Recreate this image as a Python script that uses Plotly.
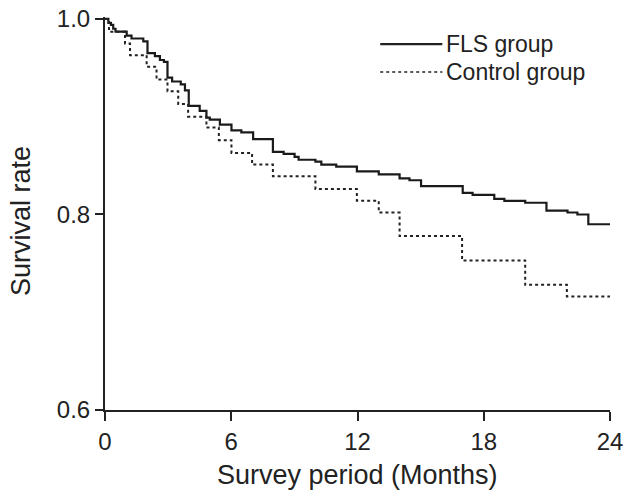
import plotly.graph_objects as go

# Kaplan-Meier step data
fls_months = [0, 0.16, 0.28, 0.39, 0.5, 1.03, 1.26, 1.82, 2.02, 2.37, 2.61, 2.8, 2.97, 3.19, 3.6,
              3.8, 3.98, 4.5, 4.82, 4.98, 5.46, 6.01, 6.48, 7.04, 7.98, 8.49, 9.01, 9.2, 10.0, 10.28,
              10.99, 11.97, 13.01, 14.0, 14.47, 15.02, 17.0, 17.47, 18.5, 18.98, 19.97, 20.98, 21.98,
              22.45, 22.97, 24]
fls_surv = [1.0, 0.996, 0.994, 0.990, 0.987, 0.983, 0.980, 0.977, 0.965, 0.962, 0.958, 0.956, 0.940,
            0.936, 0.933, 0.927, 0.911, 0.906, 0.899, 0.897, 0.892, 0.886, 0.884, 0.877, 0.864, 0.862,
            0.859, 0.856, 0.854, 0.851, 0.849, 0.844, 0.841, 0.837, 0.835, 0.829, 0.822, 0.820, 0.816,
            0.814, 0.812, 0.804, 0.802, 0.800, 0.790, 0.790]

ctl_months = [0, 0.19, 0.95, 1.19, 1.98, 2.45, 2.97, 3.48, 3.95, 4.82, 5.41, 6.01, 6.99, 7.98, 10.0,
              11.97, 13.01, 14.0, 16.97, 19.97, 21.95, 24]
ctl_surv = [1.0, 0.987, 0.975, 0.963, 0.951, 0.938, 0.926, 0.913, 0.900, 0.889, 0.876, 0.863, 0.851,
            0.839, 0.826, 0.814, 0.802, 0.778, 0.753, 0.728, 0.716, 0.716]

x_ticks = [0, 6, 12, 18, 24]
y_ticks = [0.6, 0.8, 1.0]
y_tick_labels = ["0.6", "0.8", "1.0"]

series_names = ["FLS group", "Control group"]
x_title = "Survey period (Months)"
y_title = "Survival rate"

INK = "#222222"
FONT = "Liberation Sans, Arial, Helvetica, sans-serif"

fig = go.Figure()
fig.add_trace(go.Scatter(x=fls_months, y=fls_surv, mode="lines", line_shape="hv",
                         name=series_names[0], line=dict(color="#1a1a1a", width=2.2)))
fig.add_trace(go.Scatter(x=ctl_months, y=ctl_surv, mode="lines", line_shape="hv",
                         name=series_names[1], line=dict(color=INK, width=2, dash="dot")))

tick_font = dict(family=FONT, size=24, color=INK)

fig.update_layout(
    width=626, height=493,
    margin=dict(l=105, r=16, t=17, b=83),
    paper_bgcolor="white", plot_bgcolor="white",
    showlegend=False,
)

# Legend drawn as sample lines + labels (paper coordinates)
leg_rows = [(0.931, "solid", 2.2), (0.860, "dot", 1.6)]
for (yy, dash, w), name in zip(leg_rows, series_names):
    fig.add_shape(type="line", xref="paper", yref="paper", x0=0.545, x1=0.668, y0=yy, y1=yy,
                  line=dict(color=INK, width=w, dash=dash))
    fig.add_annotation(xref="paper", yref="paper", x=0.674, y=yy, text=name, showarrow=False,
                       xanchor="left", yanchor="middle", borderpad=0,
                       font=dict(family=FONT, size=23, color=INK))

# Axis titles
fig.add_annotation(xref="paper", yref="paper", x=0.5, y=-0.165, text=x_title, showarrow=False,
                   xanchor="center", yanchor="middle", font=dict(family=FONT, size=27, color=INK))
fig.add_annotation(xref="paper", yref="paper", x=-0.165, y=0.48, text=y_title, showarrow=False,
                   textangle=-90, xanchor="center", yanchor="middle",
                   font=dict(family=FONT, size=27, color=INK))

fig.update_xaxes(range=[0, 24], tickvals=x_ticks, ticktext=[str(v) for v in x_ticks],
                 showline=True, linecolor=INK, linewidth=2, ticks="outside",
                 ticklen=9, tickwidth=2, tickcolor=INK, showgrid=False, zeroline=False,
                 tickfont=tick_font, automargin=False)
fig.update_yaxes(range=[0.6, 1.002], tickvals=y_ticks, ticktext=y_tick_labels,
                 showline=True, linecolor=INK, linewidth=2, ticks="outside",
                 ticklen=8, tickwidth=2, tickcolor=INK, showgrid=False, zeroline=False,
                 tickfont=tick_font, automargin=False)

fig.write_html("out.html", config={"displayModeBar": False},
               post_script="document.body.style.margin='0';document.body.style.overflow='hidden';")
